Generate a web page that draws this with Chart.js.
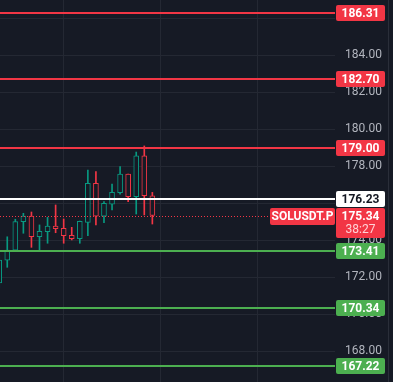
<!DOCTYPE html>
<html>
<head>
<meta charset="utf-8">
<script src="https://cdn.jsdelivr.net/npm/chart.js@4.4.1/dist/chart.umd.min.js"></script>
<style>
  html, body { margin: 0; padding: 0; background: #161a25; }
  #wrap { width: 393px; height: 382px; }
</style>
</head>
<body>
<div id="wrap"><canvas id="priceChart" width="393" height="382"></canvas></div>
<script>
// candles, oldest first (index = bar number)
const opens  = [171.69, 172.93, 173.47, 175.01, 175.31, 174.19, 174.46, 174.77, 174.65, 174.27,
                174.09, 174.97, 177.08, 175.31, 175.95, 176.57, 177.58, 176.36, 178.56, 176.41];
const highs  = [173.20, 174.19, 175.14, 175.46, 175.53, 174.83, 175.24, 175.91, 175.15, 174.70,
                175.04, 177.80, 177.71, 176.09, 177.04, 177.98, 177.58, 178.77, 179.10, 176.59];
const lows   = [171.40, 172.54, 173.45, 174.38, 173.62, 173.44, 173.84, 174.41, 173.84, 174.02,
                173.84, 174.25, 174.83, 174.95, 175.64, 176.50, 176.09, 175.42, 175.37, 174.88];
const closes = [172.93, 173.47, 175.01, 175.31, 174.19, 174.49, 174.77, 174.63, 174.25, 174.09,
                175.03, 177.08, 175.31, 176.00, 176.59, 177.58, 176.36, 178.56, 176.41, 175.34];

// horizontal levels
const resistanceLevels = [186.31, 182.70, 179.00];
const pivotLevels = [176.23];
const supportLevels = [173.41, 170.34, 167.22];
const lastPrice = 175.34;
const symbolName = 'SOLUSDT.P';
const countdown = '38:27';

// axis ticks
const priceTicks = [168, 170, 172, 174, 176, 178, 180, 182, 184, 186];
const timeGridTicks = [8, 20, 32];

const BG = '#161a25';
const UP = '#089981';
const DOWN = '#f23645';
const LEVEL_GREEN = '#4caf50';

const bodies = opens.map((o, i) => ({ x: i, y: [o, closes[i]] }));
const wicks = opens.map((o, i) => ({ x: i, y: [lows[i], highs[i]] }));
const candleColor = ctx => {
    const i = ctx.dataIndex;
    return closes[i] >= opens[i] ? UP : DOWN;
};

function tag(ctx, x, y, w, h, fill, text, color) {
    ctx.fillStyle = fill;
    ctx.beginPath();
    ctx.roundRect(x, y, w, h, 2);
    ctx.fill();
    ctx.fillStyle = color;
    ctx.textAlign = 'center';
    ctx.textBaseline = 'middle';
    ctx.fillText(text, x + w / 2, y + h / 2 + 0.5);
}

const levelsPlugin = {
    id: 'levels',
    afterDraw(chart) {
        const ctx = chart.ctx;
        const yScale = chart.scales.y;
        const area = chart.chartArea;
        const axisLeft = yScale.left;
        ctx.save();

        // separator on the far right
        ctx.strokeStyle = '#2a2e39';
        ctx.lineWidth = 1;
        ctx.beginPath();
        ctx.moveTo(388.5, 0);
        ctx.lineTo(388.5, chart.height);
        ctx.stroke();

        const lines = [];
        resistanceLevels.forEach(v => lines.push({ v, color: DOWN, text: '#ffffff' }));
        pivotLevels.forEach(v => lines.push({ v, color: '#ffffff', text: '#131722' }));
        supportLevels.forEach(v => lines.push({ v, color: LEVEL_GREEN, text: '#ffffff' }));

        // last price dotted line
        const py = yScale.getPixelForValue(lastPrice);
        ctx.strokeStyle = DOWN;
        ctx.lineWidth = 1;
        ctx.setLineDash([1, 2]);
        ctx.beginPath();
        ctx.moveTo(area.left, Math.round(py) + 0.5);
        ctx.lineTo(area.right, Math.round(py) + 0.5);
        ctx.stroke();
        ctx.setLineDash([]);

        lines.forEach(l => {
            const y = yScale.getPixelForValue(l.v);
            ctx.strokeStyle = l.color;
            ctx.lineWidth = 2;
            ctx.beginPath();
            ctx.moveTo(area.left, Math.round(y));
            ctx.lineTo(area.right, Math.round(y));
            ctx.stroke();
        });

        ctx.font = 'bold 12px Roboto';
        lines.forEach(l => {
            const y = yScale.getPixelForValue(l.v);
            tag(ctx, axisLeft + 1, Math.round(y) - 8, 49, 16, l.color, l.v.toFixed(2), l.text);
        });

        // last price tag with countdown + symbol tag
        const top = Math.round(py) - 8;
        ctx.fillStyle = DOWN;
        ctx.beginPath();
        ctx.roundRect(axisLeft + 1, top, 49, 30, 2);
        ctx.fill();
        ctx.textAlign = 'center';
        ctx.textBaseline = 'middle';
        ctx.fillStyle = '#ffffff';
        ctx.fillText(lastPrice.toFixed(2), axisLeft + 25.5, top + 8.5);
        ctx.fillStyle = '#ffd2d6';
        ctx.font = '12px Roboto';
        ctx.fillText(countdown, axisLeft + 25.5, top + 22);

        ctx.font = 'bold 12px Roboto';
        tag(ctx, 270, top, 65, 17, DOWN, symbolName, '#ffffff');
        ctx.restore();
    }
};

new Chart(document.getElementById('priceChart'), {
    type: 'bar',
    data: {
        datasets: [
            {
                label: 'body',
                data: bodies,
                backgroundColor: BG,
                borderColor: candleColor,
                borderWidth: 1,
                borderSkipped: false,
                barThickness: 5,
                clip: 0
            },
            {
                label: 'wick',
                data: wicks,
                backgroundColor: candleColor,
                borderWidth: 0,
                barThickness: 1,
                clip: 0
            }
        ]
    },
    options: {
        responsive: false,
        animation: false,
        devicePixelRatio: 1,
        grouped: false,
        layout: { padding: 0 },
        plugins: {
            legend: { display: false },
            tooltip: { enabled: false }
        },
        scales: {
            x: {
                type: 'linear',
                offset: false,
                min: 0.1,
                max: 41.66,
                afterBuildTicks: scale => {
                    scale.ticks = timeGridTicks.map(v => ({ value: v }));
                },
                afterFit: scale => { scale.height = 0; },
                ticks: { display: false },
                border: { display: false },
                grid: { color: '#242833', drawTicks: false, offset: false }
            },
            y: {
                type: 'linear',
                position: 'right',
                min: 166.34,
                max: 186.99,
                afterBuildTicks: scale => {
                    scale.ticks = priceTicks.map(v => ({ value: v }));
                },
                afterFit: scale => {
                    scale.width = 58;
                    scale.paddingTop = 0;
                    scale.paddingBottom = 0;
                },
                ticks: {
                    color: '#b2b5be',
                    font: { family: 'Roboto', size: 12 },
                    padding: 10,
                    crossAlign: 'near',
                    callback: v => v.toFixed(2)
                },
                border: { display: false },
                grid: { color: '#242833', drawTicks: false }
            }
        }
    },
    plugins: [levelsPlugin]
});
</script>
</body>
</html>
